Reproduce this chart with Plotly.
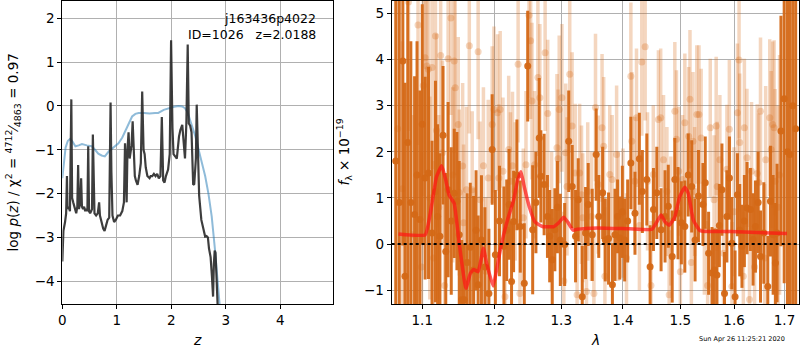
import math
import plotly.graph_objects as go

# ---------------- left panel: redshift probability ----------------
pz_z = [0.00, 0.02, 0.05, 0.07, 0.085, 0.095, 0.12, 0.14, 0.165, 0.18, 0.20, 0.23, 0.255, 0.275,
        0.29, 0.305, 0.33, 0.345, 0.36, 0.38, 0.40, 0.42, 0.44, 0.46, 0.475, 0.49, 0.51, 0.53,
        0.545, 0.56, 0.575, 0.59, 0.62, 0.65, 0.675, 0.69, 0.72, 0.75, 0.775, 0.80, 0.83, 0.86,
        0.875, 0.885, 0.90, 0.92, 0.95, 0.98, 1.02, 1.06, 1.10, 1.13, 1.15, 1.17, 1.18, 1.195,
        1.215, 1.235, 1.25, 1.27, 1.29, 1.31, 1.33, 1.35, 1.38, 1.41, 1.44, 1.465, 1.49, 1.51,
        1.53, 1.56, 1.60, 1.62, 1.65, 1.68, 1.71, 1.74, 1.77, 1.80, 1.825, 1.85, 1.875, 1.90,
        1.94, 1.97, 1.995, 2.02, 2.04, 2.07, 2.10, 2.14, 2.165, 2.20, 2.25, 2.275, 2.30, 2.32,
        2.345, 2.37, 2.40, 2.42, 2.45, 2.465, 2.485, 2.51, 2.55, 2.59, 2.62, 2.645, 2.67, 2.69,
        2.72, 2.745, 2.765, 2.78, 2.795, 2.81, 2.83, 2.86]
pz_logp = [-3.55, -2.85, -2.65, -2.45, -1.6, -2.35, -2.3, -2.4, 0.15, -2.1, -2.2, -2.35, -2.45, -2.3,
           -1.35, -2.35, -2.2, -1.65, -2.3, -2.35, -2.3, -2.4, -2.35, -2.4, -0.92, -2.4, -2.45, -2.4,
           -2.35, -0.65, -2.3, -2.45, -2.5, -2.45, -2.2, -2.5, -2.65, -2.8, -2.85, -2.75, -2.6, -2.55,
           -1.2, 0.08, -1.5, -2.5, -2.65, -2.6, -2.5, -2.5, -2.4, -2.2, -0.85, -2.1, -2.2, -1.0,
           -0.6, -1.2, -1.0, -0.9, -0.35, -1.2, -1.6, -1.7, -1.8, -1.6, -1.3, 0.33, -1.0, -1.1,
           -1.4, -1.6, -1.65, -1.6, -1.6, -1.55, -1.6, -1.55, -1.65, -1.6, -0.25, -1.7, -1.75, -1.6,
           -1.45, -1.1, 1.5, -0.5, -1.1, -1.15, -1.2, -0.7, -0.55, -0.43, -1.2, -0.4, 1.4, -0.4,
           -0.45, -0.6, -1.8, -1.78, -1.2, 0.03, -0.9, -2.05, -2.6, -2.8, -2.98, -2.97, -3.0, -3.25,
           -3.45, -3.9, -4.35, -3.6, -3.3, -3.35, -4.2, -4.9]

sm_z = [0.0, 0.024, 0.06, 0.10, 0.146, 0.19, 0.24, 0.30, 0.36, 0.45, 0.54, 0.60, 0.66, 0.72, 0.78,
        0.85, 0.93, 1.03, 1.10, 1.18, 1.28, 1.34, 1.40, 1.50, 1.60, 1.70, 1.76, 1.86, 1.95, 2.05,
        2.13, 2.20, 2.25, 2.30, 2.34, 2.39, 2.44, 2.53, 2.62, 2.68, 2.74, 2.80, 2.85, 2.90]
sm_logp = [-1.65, -1.38, -0.95, -0.8, -0.75, -0.82, -0.92, -0.9, -0.87, -0.9, -0.92, -1.0, -1.09,
           -1.13, -1.15, -1.04, -0.95, -0.85, -0.72, -0.5, -0.24, -0.18, -0.16, -0.16, -0.17, -0.16,
           -0.16, -0.09, -0.05, -0.02, 0.0, -0.01, -0.05, -0.15, -0.31, -0.5, -0.69, -1.15, -1.6,
           -2.0, -2.52, -3.28, -4.0, -4.75]

# ---------------- right panel: spectrum ----------------
wave_a = [1.0655, 1.0700, 1.0746, 1.0774, 1.0810, 1.0850, 1.0899, 1.0931, 1.0968, 1.1000, 1.1038,
          1.1083, 1.1130, 1.1176, 1.1205, 1.1236, 1.1278, 1.1315, 1.1347, 1.1390, 1.1431, 1.1468,
          1.1500, 1.1533, 1.1570, 1.1610, 1.1653, 1.1700, 1.1735, 1.1764, 1.1811, 1.1860, 1.1917,
          1.1964, 1.2010, 1.2070, 1.2135, 1.2175, 1.2210, 1.2246, 1.2276, 1.2325, 1.2375, 1.2435,
          1.2486, 1.2561, 1.2610, 1.2660, 1.2685, 1.2735, 1.2786, 1.2820, 1.2860, 1.2900, 1.2940,
          1.2985, 1.3053, 1.3117, 1.3172, 1.3225, 1.3268, 1.3332, 1.3385, 1.3428, 1.3493, 1.3557,
          1.3599, 1.3663, 1.3706, 1.3760, 1.3824, 1.3867, 1.3910, 1.3947, 1.3990, 1.4029, 1.4080,
          1.4134, 1.4204, 1.4279, 1.4331, 1.4408, 1.4465, 1.4523, 1.4582, 1.4657, 1.4727, 1.4784,
          1.4854, 1.4901, 1.4958, 1.5019, 1.5081, 1.5143, 1.5206, 1.5268, 1.5330, 1.5413, 1.5456,
          1.5518, 1.5582, 1.5625, 1.5675, 1.5720, 1.5769, 1.5818, 1.5863, 1.5912, 1.5957, 1.6020,
          1.6066, 1.6110, 1.6153, 1.6200, 1.6252, 1.6318, 1.6370, 1.6417, 1.6470, 1.6517, 1.6583,
          1.6662, 1.6716, 1.6770, 1.6815, 1.6849, 1.6928, 1.6994, 1.7060, 1.7110, 1.7170, 1.7230]
flux_a = [1.8, 0.9, 3.97, -0.70, 2.2, 0.9, 0.64, 1.5, 0.53, 2.6, 1.43,
          1.54, 0.24, 1.14, 0.6, 0.17, 2.36, -0.16, 1.18, 0.5, 1.10, 0.93,
          0.2, -1.21, -1.21, -0.4, -0.07, -0.56, 0.3, -0.88, 0.09, -0.5, -1.07,
          2.05, -0.23, 0.5, -0.05, 0.3, 0.86, -0.81, 0.49, 1.50, 0.38, -0.85,
          3.86, 0.31, 0.9, 2.30, 1.47, 1.29, 0.60, 0.17, -0.34, 0.31, 0.8,
          0.09, -0.01, 2.23, 1.25, 0.17, 0.96, -1.14, 0.24, 0.86, 0.20, 1.94,
          0.60, 1.11, 0.09, 0.12, -0.88, 0.20, 0.6, 0.13, 0.7, 0.09, 0.5,
          1.76, 0.67, 1.85, 1.14, 1.40, -0.49, 0.75, 1.11, 0.31, 0.60, 0.82,
          -0.27, 1.40, 0.67, 0.46, 0.38, 1.50, 1.25, 0.09, 1.04, 0.86, 1.33,
          -0.20, -0.63, -0.56, -0.67, 0.4, 1.18, -1.07, 0.60, 1.43, 0.02, -1.14,
          1.07, 0.3, -0.05, 0.5, 0.78, 0.75, 0.1, 0.38, 0.9, -0.27, 0.24,
          -0.92, 0.93, 0.2, -0.41, 0.24, 2.45, 3.15, 2.0, 1.94, 3.0, 2.5]
err_a = [5.0, 4.5, 4.0, 4.2, 3.8, 3.5, 3.0, 2.9, 2.8, 2.6, 2.2,
         2.3, 2.0, 2.4, 2.0, 1.8, 1.5, 1.7, 1.9, 1.6, 1.4, 1.5,
         1.6, 1.3, 1.2, 1.5, 1.4, 1.6, 1.3, 1.5, 1.4, 1.3, 1.4,
         1.2, 1.4, 1.2, 1.3, 1.1, 1.2, 1.3, 1.1, 1.2, 1.0, 1.3,
         1.2, 1.4, 1.1, 1.3, 1.0, 1.1, 0.9, 1.0, 1.1, 0.9, 1.0,
         1.0, 0.9, 1.1, 0.9, 1.0, 0.9, 1.1, 1.0, 0.9, 1.0, 1.0,
         0.9, 1.0, 0.9, 1.0, 0.9, 1.0, 0.8, 0.9, 1.0, 0.9, 0.9,
         1.0, 0.9, 1.0, 0.9, 1.0, 0.9, 0.9, 1.0, 0.9, 1.0, 0.9,
         1.0, 0.9, 1.0, 0.9, 1.0, 0.9, 1.0, 0.9, 1.0, 0.9, 1.0,
         0.9, 1.0, 0.9, 1.0, 0.9, 1.0, 0.9, 1.0, 0.9, 1.0, 1.0,
         0.9, 1.0, 0.9, 1.0, 1.0, 0.9, 1.0, 1.0, 1.1, 1.0, 1.1,
         1.1, 1.2, 1.3, 1.3, 1.5, 2.5, 4.0, 6.0, 6.0, 6.0, 6.0]

wave_b = [1.0680, 1.0740, 1.0820, 1.0880, 1.0944, 1.0990, 1.1014, 1.1038, 1.1060, 1.1080, 1.1100,
          1.1130, 1.1150, 1.1176, 1.1190, 1.1220, 1.1246, 1.1270, 1.1300, 1.1347, 1.1385, 1.1410,
          1.1430, 1.1445, 1.1486, 1.1500, 1.1547, 1.1560, 1.1600, 1.1640, 1.1680, 1.1700, 1.1764,
          1.1790, 1.1839, 1.1870, 1.1908, 1.1964, 1.1990, 1.2041, 1.2060, 1.2080, 1.2120, 1.2150,
          1.2204, 1.2230, 1.2260, 1.2300, 1.2343, 1.2370, 1.2420, 1.2460, 1.2506, 1.2530, 1.2550,
          1.2590, 1.2640, 1.2670, 1.2750, 1.2790, 1.2850, 1.2933, 1.2950, 1.2968, 1.3010, 1.3040,
          1.3070, 1.3090, 1.3133, 1.3170, 1.3220, 1.3250, 1.3290, 1.3320, 1.3340, 1.3400, 1.3420,
          1.3480, 1.3520, 1.3546, 1.3590, 1.3653, 1.3680, 1.3700, 1.3780, 1.3820, 1.3894, 1.3920,
          1.4000, 1.4060, 1.4134, 1.4150, 1.4200, 1.4230, 1.4280, 1.4321, 1.4379, 1.4420, 1.4480,
          1.4520, 1.4610, 1.4650, 1.4700, 1.4760, 1.4800, 1.4830, 1.4901, 1.4930, 1.4970, 1.5000,
          1.5040, 1.5081, 1.5150, 1.5175, 1.5200, 1.5230, 1.5260, 1.5300, 1.5340, 1.5380, 1.5440,
          1.5500, 1.5549, 1.5620, 1.5660, 1.5680, 1.5730, 1.5800, 1.5863, 1.5910, 1.5960, 1.6000,
          1.6066, 1.6097, 1.6110, 1.6180, 1.6200, 1.6250, 1.6300, 1.6340, 1.6400, 1.6451, 1.6480,
          1.6517, 1.6600, 1.6620, 1.6702, 1.6730, 1.6760, 1.6790, 1.6810, 1.6870, 1.6900]
flux_b = [2.5, 1.2, 5.25, 0.2, 4.75, -0.5, 3.44, 4.04, 3.86, 3.79, 1.0,
          3.83, -0.3, 4.51, 2.46, 0.8, 4.09, 1.98, -0.9, 4.02, 4.90, 1.5,
          3.97, 3.39, 2.59, 1.12, 1.69, 0.46, 1.18, 4.30, 1.18, -0.59, 4.17,
          0.96, 1.70, -0.59, 1.43, 2.59, 2.92, 2.85, 1.43, 2.92, 1.58, -1.14,
          2.05, 1.36, 1.70, 1.14, 3.90, -1.07, 0.57, 1.72, 4.96, 4.41, 3.10,
          1.72, 3.61, 3.17, 4.15, 2.83, 0.5, 2.09, 1.85, 2.92, 3.17, -0.8,
          1.98, 1.25, 3.68, 2.56, 1.54, -1.10, 1.54, 1.07, 0.57, -1.03, 1.14,
          0.60, -1.07, 2.96, 1.29, 2.52, 2.12, -0.70, 1.51, 1.40, 1.94, 0.60,
          0.67, -0.3, 3.64, 2.23, 1.36, 2.74, 0.4, 3.95, 4.28, 1.36, -0.9,
          1.51, 2.70, 2.74, 1.83, 1.14, -1.1, 0.5, 2.88, 2.27, 1.58, -0.6,
          1.40, 2.63, 2.34, 3.14, -0.4, 2.23, 1.14, 2.81, 2.81, 2.30, 0.3,
          -0.9, 2.52, 0.96, 2.56, 1.25, 1.83, -0.2, 1.62, 2.49, -0.92, 0.7,
          2.85, 3.99, 2.20, -0.7, 2.52, 1.87, -1.2, 1.58, -0.5, 1.53, 1.33,
          2.88, -0.3, 1.83, 2.74, 2.05, 2.59, 2.52, 1.36, 0.8, 1.5]
err_b = [3.5, 3.2, 2.8, 2.6, 2.6, 2.5, 2.4, 2.5, 2.4, 2.3, 2.2,
         2.2, 2.1, 2.3, 2.1, 2.0, 2.1, 2.0, 1.9, 2.0, 2.1, 1.9,
         2.0, 1.9, 1.9, 1.8, 1.8, 1.7, 1.8, 1.9, 1.7, 1.8, 1.9,
         1.7, 1.7, 1.6, 1.7, 1.7, 1.8, 1.7, 1.6, 1.7, 1.6, 1.6,
         1.6, 1.5, 1.6, 1.5, 1.7, 1.6, 1.5, 1.6, 1.8, 1.7, 1.7,
         1.6, 1.7, 1.6, 1.7, 1.6, 1.5, 1.6, 1.5, 1.6, 1.6, 1.5,
         1.5, 1.5, 1.7, 1.6, 1.5, 1.5, 1.5, 1.5, 1.4, 1.5, 1.5,
         1.4, 1.4, 1.6, 1.5, 1.6, 1.5, 1.5, 1.5, 1.4, 1.5, 1.4,
         1.4, 1.4, 1.6, 1.5, 1.4, 1.5, 1.4, 1.6, 1.6, 1.5, 1.4,
         1.5, 1.5, 1.5, 1.4, 1.4, 1.4, 1.4, 1.5, 1.5, 1.4, 1.4,
         1.4, 1.5, 1.5, 1.5, 1.4, 1.5, 1.4, 1.5, 1.5, 1.5, 1.4,
         1.4, 1.5, 1.4, 1.5, 1.4, 1.4, 1.4, 1.4, 1.5, 1.4, 1.4,
         1.5, 1.7, 1.5, 1.4, 1.5, 1.5, 1.5, 1.5, 1.5, 1.5, 1.5,
         1.6, 1.6, 1.6, 1.7, 1.7, 1.8, 1.9, 2.0, 2.2, 2.6]

model_wave = [1.069, 1.1038, 1.1107, 1.119, 1.126, 1.1315, 1.136, 1.143, 1.150, 1.1593, 1.1653,
              1.170, 1.1764, 1.1839, 1.1885, 1.1978, 1.2036, 1.210, 1.2186, 1.2276, 1.2336, 1.2385,
              1.2435, 1.251, 1.2595, 1.271, 1.2885, 1.296, 1.3037, 1.310, 1.3186, 1.325, 1.3575,
              1.4107, 1.4495, 1.4582, 1.4657, 1.4727, 1.4802, 1.4901, 1.4988, 1.5081, 1.5143,
              1.5237, 1.5362, 1.5925, 1.705]
model_flux = [0.22, 0.20, 0.67, 1.46, 1.70, 1.39, 1.06, 0.88, 0.01, -0.96, -0.64,
              -0.55, -0.60, -0.09, -0.42, -0.91, -0.49, 0.01, 0.52, 0.95, 1.39, 1.57,
              1.24, 0.81, 0.48, 0.38, 0.38, 0.46, 0.58, 0.48, 0.30, 0.32, 0.35,
              0.33, 0.32, 0.48, 0.63, 0.48, 0.41, 0.59, 1.03, 1.23, 1.10,
              0.52, 0.29, 0.27, 0.23]

z_ticks = [0, 1, 2, 3, 4]
logp_ticks = [-4, -3, -2, -1, 0, 1, 2]
wave_ticks = [1.1, 1.2, 1.3, 1.4, 1.5, 1.6, 1.7]
wave_ticktext = ["1.1", "1.2", "1.3", "1.4", "1.5", "1.6", "1.7"]
flux_ticks = [-1, 0, 1, 2, 3, 4, 5]

FONT = "DejaVu Sans"
DARK = "rgba(212,104,22,0.95)"
LIGHT = "rgba(214,106,24,0.28)"

fig = go.Figure()

# left panel
fig.add_trace(go.Scatter(x=sm_z, y=sm_logp, mode="lines", xaxis="x", yaxis="y",
                         line=dict(color="rgba(31,119,180,0.5)", width=2), showlegend=False))
fig.add_trace(go.Scatter(x=pz_z, y=pz_logp, mode="lines", xaxis="x", yaxis="y",
                         line=dict(color="rgba(40,40,40,0.9)", width=2.2), showlegend=False))

# right panel
fig.add_trace(go.Scatter(x=wave_b, y=flux_b, mode="markers", xaxis="x2", yaxis="y2",
                         marker=dict(color=LIGHT, size=7, line=dict(width=0)),
                         error_y=dict(type="data", array=err_b, color=LIGHT, thickness=3.5, width=0),
                         showlegend=False))
fig.add_trace(go.Scatter(x=wave_a, y=flux_a, mode="markers", xaxis="x2", yaxis="y2",
                         marker=dict(color=DARK, size=7, line=dict(width=0)),
                         error_y=dict(type="data", array=err_a, color=DARK, thickness=3, width=0),
                         showlegend=False))
fig.add_trace(go.Scatter(x=model_wave, y=model_flux, mode="lines", xaxis="x2", yaxis="y2",
                         line=dict(color="rgba(255,20,20,0.7)", width=3.5, shape="spline", smoothing=0.4),
                         showlegend=False))

# zero line
fig.add_shape(type="line", xref="x2 domain", yref="y2", x0=0, x1=1, y0=0, y1=0,
              line=dict(color="black", width=2, dash="dot"), layer="above")

axis_common = dict(showline=True, linecolor="black", linewidth=1, mirror=True,
                   ticks="outside", ticklen=4, tickwidth=1, tickcolor="black",
                   showgrid=True, gridcolor="#b0b0b0", gridwidth=1, zeroline=False,
                   tickfont=dict(family=FONT, size=13.5, color="black"), automargin=False)

fig.update_layout(
    width=800, height=350,
    margin=dict(l=0, r=0, t=0, b=0),
    paper_bgcolor="white", plot_bgcolor="white",
    font=dict(family=FONT, color="black"),
    xaxis=dict(domain=[0.0779, 0.4166], range=[0, 4.97], tickvals=z_ticks, anchor="y", **axis_common),
    yaxis=dict(domain=[0.1314, 0.9971], range=[-4.52, 2.395], tickvals=logp_ticks, anchor="x", **axis_common),
    xaxis2=dict(domain=[0.4896, 0.9991], type="log",
                range=[math.log10(1.0603), math.log10(1.7305)],
                tickvals=wave_ticks, ticktext=wave_ticktext, anchor="y2", **axis_common),
    yaxis2=dict(domain=[0.1314, 0.9971], range=[-1.30, 5.27], tickvals=flux_ticks, anchor="x2", **axis_common),
)

ann = [
    dict(text="j163436p4022", x=0.398, y=1 - 19.0 / 350, xanchor="right", yanchor="middle",
         font=dict(size=12.5)),
    dict(text="ID=1026   z=2.0188", x=0.398, y=1 - 35.0 / 350, xanchor="right", yanchor="middle",
         font=dict(size=12.5)),
    dict(text="log <i>p</i>(<i>z</i>) / χ<sup>2</sup> = <sup>4712</sup>⁄<sub>4863</sub> = 0.97",
         x=0.016, y=0.564, textangle=-90, xanchor="center", yanchor="middle", font=dict(size=13.5)),
    dict(text="<i>f</i><sub>λ</sub> × 10<sup>−19</sup>", x=0.43, y=0.564, textangle=-90,
         xanchor="center", yanchor="middle", font=dict(size=13.5)),
    dict(text="<i>z</i>", x=0.247, y=1 - 340.0 / 350, xanchor="center", yanchor="middle", font=dict(size=14)),
    dict(text="<i>λ</i>", x=0.744, y=1 - 340.0 / 350, xanchor="center", yanchor="middle", font=dict(size=14)),
    dict(text="Sun Apr 26 11:25:21 2020", x=0.984, y=1 - 339.0 / 350, xanchor="right", yanchor="middle",
         font=dict(size=6.5)),
]
for a in ann:
    a.update(xref="paper", yref="paper", showarrow=False)
    a["font"] = dict(family=FONT, color="black", **a["font"])
fig.update_layout(annotations=ann)

fig.write_html("out.html", config={"displayModeBar": False},
               post_script="document.body.style.margin='0';document.body.style.padding='0';")
